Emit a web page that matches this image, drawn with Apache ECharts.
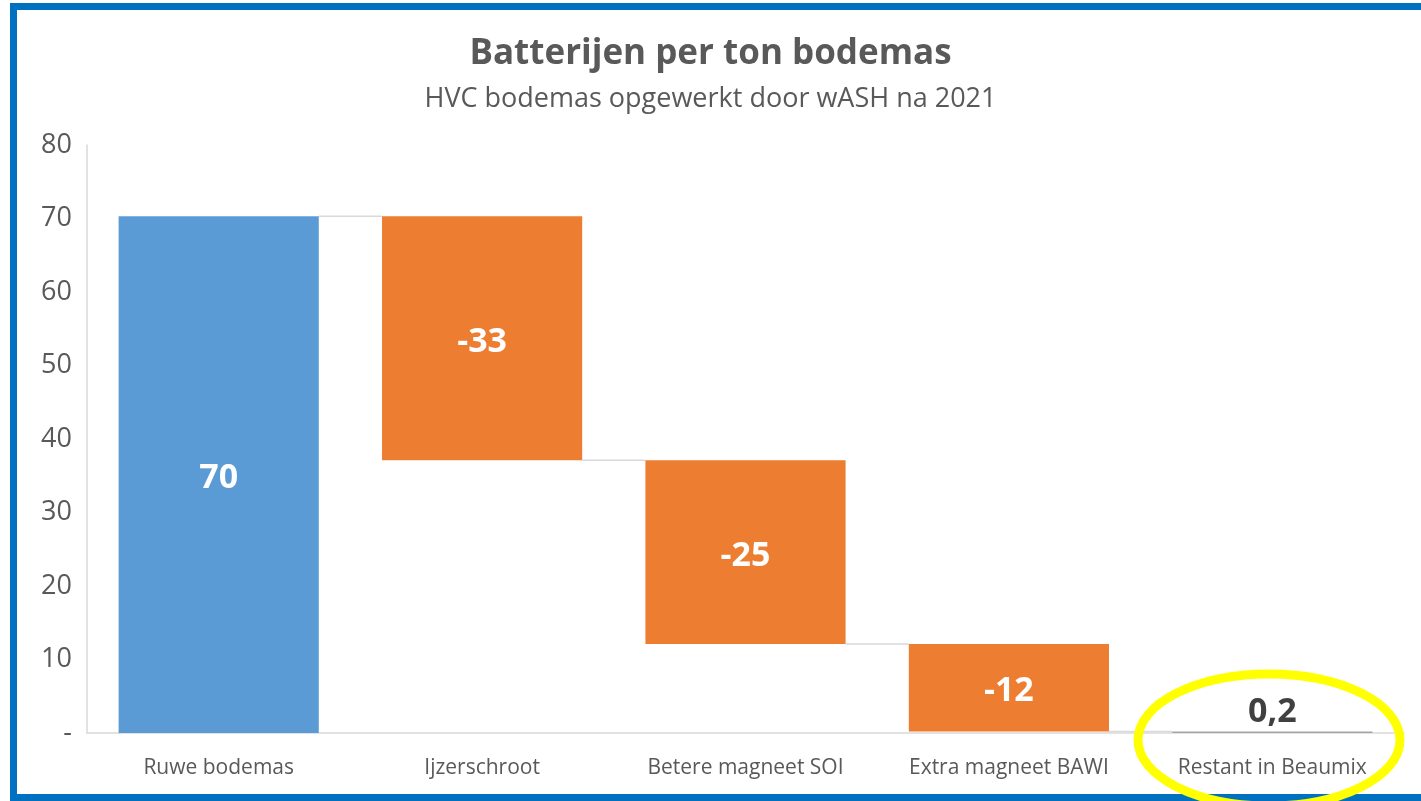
<!DOCTYPE html>
<html>
<head>
<meta charset="utf-8">
<script src="https://cdn.jsdelivr.net/npm/echarts@6/dist/echarts.min.js"></script>
<style>
  html, body { margin: 0; padding: 0; background: #fff; }
  #chart { width: 1421px; height: 801px; }
</style>
</head>
<body>
<div id="chart"></div>
<script>
const categories = ["Ruwe bodemas", "Ijzerschroot", "Betere magneet SOI", "Extra magneet BAWI", "Restant in Beaumix"];
const startValue = 70.3;
const steps = [-33.2, -25.0, -11.9];
const restValue = 0.2;
const yTicks = [0, 10, 20, 30, 40, 50, 60, 70, 80];

const FONT = "'Open Sans', 'Noto Sans', sans-serif";
const BAR_RATIO = 0.76;

// waterfall: an invisible base bar under each visible bar
const baseData = [0];
const barData = [{ value: startValue, raw: startValue, itemStyle: { color: "#5B9BD5" } }];
const connectors = [[0, startValue]];
let running = startValue;
steps.forEach((s, i) => {
  running = running + s;
  baseData.push(running);
  barData.push({ value: -s, raw: s, itemStyle: { color: "#ED7D31" } });
  connectors.push([i + 1, running]);
});
baseData.push(0);
barData.push({
  value: restValue,
  raw: restValue,
  itemStyle: { color: "#A5A5A5" },
  label: { position: "top", color: "#404040", distance: 2, offset: [0, 0] },
});

function fmt(v) {
  if (Math.abs(v) < 1) return String(v).replace(".", ",");
  return String(Math.round(v));
}

const chart = echarts.init(document.getElementById("chart"));
chart.setOption({
  backgroundColor: "#fff",
  animation: false,
  title: [
    {
      text: "Batterijen per ton bodemas",
      left: "center",
      top: 32,
      textStyle: { fontSize: 35, fontWeight: "bold", color: "#595959", fontFamily: FONT },
    },
    {
      text: "HVC bodemas opgewerkt door wASH na 2021",
      left: "center",
      top: 81,
      textStyle: { fontSize: 27, fontWeight: "normal", color: "#595959", fontFamily: FONT },
    },
  ],
  grid: { left: 87, right: 17, top: 145, bottom: 68 },
  xAxis: {
    type: "category",
    data: categories,
    axisLine: { lineStyle: { color: "#D9D9D9", width: 1.5 } },
    axisTick: { show: false },
    axisLabel: { fontSize: 21, color: "#595959", margin: 25, fontFamily: FONT },
  },
  yAxis: {
    type: "value",
    min: yTicks[0],
    max: yTicks[yTicks.length - 1],
    interval: 10,
    axisLine: { show: true, lineStyle: { color: "#D9D9D9", width: 1.5 } },
    axisTick: { show: false },
    splitLine: { show: false },
    axisLabel: {
      fontSize: 27,
      color: "#595959",
      margin: 15,
      fontFamily: FONT,
      formatter: (v) => (v === 0 ? "-" : String(v)),
    },
  },
  series: [
    {
      type: "bar",
      stack: "wf",
      data: baseData,
      barWidth: BAR_RATIO * 100 + "%",
      itemStyle: { color: "transparent" },
      silent: true,
    },
    {
      type: "bar",
      stack: "wf",
      data: barData,
      barWidth: BAR_RATIO * 100 + "%",
      label: {
        show: true,
        position: "inside",
        offset: [0, 4],
        fontSize: 34,
        fontWeight: "bold",
        color: "#fff",
        fontFamily: FONT,
        formatter: (p) => fmt(p.data.raw),
      },
    },
    {
      type: "custom",
      data: connectors,
      z: 1,
      silent: true,
      renderItem: (params, api) => {
        const p = api.coord([api.value(0), api.value(1)]);
        const band = api.size([1, 0])[0];
        const half = (band * BAR_RATIO) / 2;
        return {
          type: "line",
          shape: { x1: p[0] + half, y1: p[1], x2: p[0] + band - half, y2: p[1] },
          style: { stroke: "#D9D9D9", lineWidth: 1.5 },
        };
      },
    },
  ],
  graphic: [
    {
      type: "rect",
      shape: { x: 13.5, y: 6.5, width: 1430, height: 791 },
      style: { fill: "none", stroke: "#0070C0", lineWidth: 7 },
      z: 100,
    },
    {
      type: "ellipse",
      shape: { cx: 1269, cy: 740, rx: 131, ry: 66 },
      style: { fill: "none", stroke: "#FFFF00", lineWidth: 9 },
      z: 101,
    },
  ],
});
</script>
</body>
</html>
